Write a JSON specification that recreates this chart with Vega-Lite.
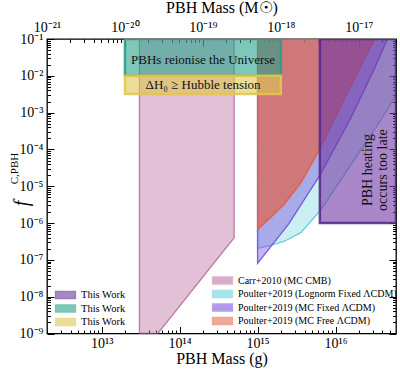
{
  "$schema": "https://vega.github.io/schema/vega-lite/v6.json",
  "width": 349,
  "height": 294.5,
  "autosize": {"type": "none"},
  "padding": {"left": 47, "top": 39, "right": 4, "bottom": 37.5},
  "config": {
    "view": {"stroke": "black", "strokeWidth": 1.3},
    "font": "Liberation Serif",
    "axis": {
      "domain": false, "tickColor": "black", "tickWidth": 1,
      "labelFont": "Liberation Serif", "labelFontSize": 14, "labelColor": "black",
      "titleFont": "Liberation Serif", "titleFontWeight": "normal", "titleColor": "black",
      "grid": false, "labelOverlap": false, "labelFlush": false
    },
    "legend": {"labelFont": "Liberation Serif", "labelColor": "black"}
  },
  "layer": [
    {
      "layer": [
        {
          "layer": [
            {
              "data": {"values": [
                {"series": "Carr+2010 (MC CMB)", "mass_g": 3.05e13, "f": 1e-9},
                {"series": "Carr+2010 (MC CMB)", "mass_g": 5.25e13, "f": 1e-9},
                {"series": "Carr+2010 (MC CMB)", "mass_g": 5.0e14, "f": 4.0e-7}
              ]},
              "mark": {"type": "area", "fillOpacity": 0.42, "strokeWidth": 1.3, "clip": true},
              "encoding": {
                "x": {"field": "mass_g", "type": "quantitative", "scale": {"type": "log", "domain": [1.989e12, 5.967e16], "nice": false},
                  "axis": {"orient": "bottom", "offset": -7, "tickSize": 7, "labelPadding": 2.5,
                    "title": "PBH Mass (g)", "titleFontSize": 16, "titleY": 37, "titleBaseline": "alphabetic",
                    "values": [1e13, 1e14, 1e15, 1e16],
                    "labelExpr": "'10' + (round(log(datum.value)/LN10) < 0 ? '⁻' : '') + (abs(round(log(datum.value)/LN10)) >= 10 ? substring('⁰¹²³⁴⁵⁶⁷⁸⁹', floor(abs(round(log(datum.value)/LN10))/10), floor(abs(round(log(datum.value)/LN10))/10) + 1) : '') + substring('⁰¹²³⁴⁵⁶⁷⁸⁹', abs(round(log(datum.value)/LN10)) % 10, abs(round(log(datum.value)/LN10)) % 10 + 1)"}},
                "y": {"field": "f", "type": "quantitative", "scale": {"type": "log", "domain": [1e-9, 0.1], "nice": false},
                  "axis": {"orient": "left", "offset": -7, "tickSize": 7, "labelPadding": 4,
                    "title": "f", "titleFontStyle": "italic", "titleFontSize": 20, "titleAngle": 270,
                    "titleX": -27, "titleY": 164, "titleAlign": "center", "titleBaseline": "alphabetic",
                    "values": [1e-9, 1e-8, 1e-7, 1e-6, 1e-5, 1e-4, 1e-3, 1e-2, 1e-1],
                    "labelExpr": "'10' + (round(log(datum.value)/LN10) < 0 ? '⁻' : '') + (abs(round(log(datum.value)/LN10)) >= 10 ? substring('⁰¹²³⁴⁵⁶⁷⁸⁹', floor(abs(round(log(datum.value)/LN10))/10), floor(abs(round(log(datum.value)/LN10))/10) + 1) : '') + substring('⁰¹²³⁴⁵⁶⁷⁸⁹', abs(round(log(datum.value)/LN10)) % 10, abs(round(log(datum.value)/LN10)) % 10 + 1)"}},
                "y2": {"datum": 0.1},
                "fill": {"field": "series", "type": "nominal",
                  "scale": {"domain": ["Carr+2010 (MC CMB)", "Poulter+2019 (Lognorm Fixed ΛCDM)", "Poulter+2019 (MC Fixed ΛCDM)", "Poulter+2019 (MC Free ΛCDM)"],
                            "range": ["#b9699b", "#5ccfd9", "#7544d9", "#dc6452"]},
                  "legend": {"orient": "none", "legendX": 170, "legendY": 236, "title": null, "padding": 0,
                    "symbolType": "M-2.2,-0.8H2.2V0.8H-2.2Z", "symbolSize": 81, "symbolStrokeWidth": 1.5, "symbolOpacity": 0.55,
                    "labelFontSize": 10, "labelOffset": 10, "rowPadding": -1.5, "labelLimit": 300}},
                "stroke": {"field": "series", "type": "nominal",
                  "scale": {"domain": ["Carr+2010 (MC CMB)", "Poulter+2019 (Lognorm Fixed ΛCDM)", "Poulter+2019 (MC Fixed ΛCDM)", "Poulter+2019 (MC Free ΛCDM)"],
                            "range": ["#c07aa8", "#6ccbdc", "#7b55e6", "#f0583a"]},
                  "legend": {"orient": "none", "legendX": 170, "legendY": 236, "title": null, "padding": 0,
                    "symbolType": "M-2.2,-0.8H2.2V0.8H-2.2Z", "symbolSize": 81, "symbolStrokeWidth": 1.5, "symbolOpacity": 0.55,
                    "labelFontSize": 10, "labelOffset": 10, "rowPadding": -1.5, "labelLimit": 300}}
              }
            },
            {
              "data": {"values": [
                {"series": "Poulter+2019 (Lognorm Fixed ΛCDM)", "mass_g": 1.0e15, "f": 2.05e-7},
                {"series": "Poulter+2019 (Lognorm Fixed ΛCDM)", "mass_g": 1.47e15, "f": 2.47e-7},
                {"series": "Poulter+2019 (Lognorm Fixed ΛCDM)", "mass_g": 2.17e15, "f": 3.16e-7},
                {"series": "Poulter+2019 (Lognorm Fixed ΛCDM)", "mass_g": 3.59e15, "f": 5.5e-7},
                {"series": "Poulter+2019 (Lognorm Fixed ΛCDM)", "mass_g": 6.5e15, "f": 2.3e-6},
                {"series": "Poulter+2019 (Lognorm Fixed ΛCDM)", "mass_g": 1.17e16, "f": 1.5e-5},
                {"series": "Poulter+2019 (Lognorm Fixed ΛCDM)", "mass_g": 2.11e16, "f": 9.7e-5},
                {"series": "Poulter+2019 (Lognorm Fixed ΛCDM)", "mass_g": 3.82e16, "f": 6.3e-4},
                {"series": "Poulter+2019 (Lognorm Fixed ΛCDM)", "mass_g": 5.967e16, "f": 2.9e-3}
              ]},
              "mark": {"type": "area", "fillOpacity": 0.32, "strokeWidth": 1.3, "clip": true},
              "encoding": {
                "x": {"field": "mass_g", "type": "quantitative", "scale": {"type": "log", "domain": [1.989e12, 5.967e16], "nice": false}},
                "y": {"field": "f", "type": "quantitative", "scale": {"type": "log", "domain": [1e-9, 0.1], "nice": false}},
                "y2": {"datum": 0.1},
                "fill": {"field": "series", "type": "nominal"},
                "stroke": {"field": "series", "type": "nominal"}
              }
            },
            {
              "data": {"values": [
                {"series": "Poulter+2019 (MC Fixed ΛCDM)", "mass_g": 1.0e15, "f": 8.0e-8},
                {"series": "Poulter+2019 (MC Fixed ΛCDM)", "mass_g": 2.51e15, "f": 9.5e-7},
                {"series": "Poulter+2019 (MC Fixed ΛCDM)", "mass_g": 6.31e15, "f": 2.0e-5},
                {"series": "Poulter+2019 (MC Fixed ΛCDM)", "mass_g": 1.585e16, "f": 7.35e-4},
                {"series": "Poulter+2019 (MC Fixed ΛCDM)", "mass_g": 3.16e16, "f": 1.59e-2},
                {"series": "Poulter+2019 (MC Fixed ΛCDM)", "mass_g": 4.63e16, "f": 0.1}
              ]},
              "mark": {"type": "area", "fillOpacity": 0.4, "strokeWidth": 1.3, "clip": true},
              "encoding": {
                "x": {"field": "mass_g", "type": "quantitative", "scale": {"type": "log", "domain": [1.989e12, 5.967e16], "nice": false}},
                "y": {"field": "f", "type": "quantitative", "scale": {"type": "log", "domain": [1e-9, 0.1], "nice": false}},
                "y2": {"datum": 0.1},
                "fill": {"field": "series", "type": "nominal"},
                "stroke": {"field": "series", "type": "nominal"}
              }
            },
            {
              "data": {"values": [
                {"series": "Poulter+2019 (MC Free ΛCDM)", "mass_g": 1.0e15, "f": 6.7e-7},
                {"series": "Poulter+2019 (MC Free ΛCDM)", "mass_g": 1.47e15, "f": 1.41e-6},
                {"series": "Poulter+2019 (MC Free ΛCDM)", "mass_g": 2.17e15, "f": 3.2e-6},
                {"series": "Poulter+2019 (MC Free ΛCDM)", "mass_g": 3.59e15, "f": 1.24e-5},
                {"series": "Poulter+2019 (MC Free ΛCDM)", "mass_g": 6.1e15, "f": 9.1e-5},
                {"series": "Poulter+2019 (MC Free ΛCDM)", "mass_g": 1.36e16, "f": 2.97e-3},
                {"series": "Poulter+2019 (MC Free ΛCDM)", "mass_g": 3.16e16, "f": 0.1}
              ]},
              "mark": {"type": "area", "fillOpacity": 0.72, "strokeWidth": 1.3, "clip": true},
              "encoding": {
                "x": {"field": "mass_g", "type": "quantitative", "scale": {"type": "log", "domain": [1.989e12, 5.967e16], "nice": false}},
                "y": {"field": "f", "type": "quantitative", "scale": {"type": "log", "domain": [1e-9, 0.1], "nice": false}},
                "y2": {"datum": 0.1},
                "fill": {"field": "series", "type": "nominal"},
                "stroke": {"field": "series", "type": "nominal"}
              }
            }
          ]
        },
        {
          "data": {"values": [
            {"box": "b", "mass_g": 1.989e13, "mass_g2": 1.989e15, "f": 1e-2, "f2": 0.1},
            {"box": "c", "mass_g": 1.989e13, "mass_g2": 1.989e15, "f": 3.2e-3, "f2": 1e-2},
            {"box": "a", "mass_g": 6.3e15, "mass_g2": 5.967e16, "f": 1e-6, "f2": 0.1}
          ]},
          "mark": {"type": "rect", "fillOpacity": 0.6, "strokeWidth": 2.5, "strokeOpacity": 0.9, "clip": true},
          "encoding": {
            "x": {"field": "mass_g", "type": "quantitative", "scale": {"type": "log", "domain": [1.989e12, 5.967e16], "nice": false}},
            "x2": {"field": "mass_g2"},
            "y": {"field": "f", "type": "quantitative", "scale": {"type": "log", "domain": [1e-9, 0.1], "nice": false}},
            "y2": {"field": "f2"},
            "fill": {"field": "box", "type": "nominal",
              "scale": {"domain": ["a", "b", "c"], "range": ["#7137a3", "#26a38a", "#dec850"]},
              "legend": {"orient": "none", "legendX": 13, "legendY": 250.5, "title": null, "padding": 0,
                "symbolType": "M-2.2,-0.8H2.2V0.8H-2.2Z", "symbolSize": 81, "symbolStrokeWidth": 1.5, "symbolOpacity": 0.6,
                "labelFontSize": 10.5, "labelOffset": 10, "rowPadding": -1.5, "labelExpr": "'This Work'"}},
            "stroke": {"field": "box", "type": "nominal",
              "scale": {"domain": ["a", "b", "c"], "range": ["#5a2a8a", "#2e9d88", "#e3c64a"]},
              "legend": {"orient": "none", "legendX": 13, "legendY": 250.5, "title": null, "padding": 0,
                "symbolType": "M-2.2,-0.8H2.2V0.8H-2.2Z", "symbolSize": 81, "symbolStrokeWidth": 1.5, "symbolOpacity": 0.6,
                "labelFontSize": 10.5, "labelOffset": 10, "rowPadding": -1.5, "labelExpr": "'This Work'"}}
          }
        },
        {
          "data": {"values": [
            {"label": "PBHs reionise the Universe", "mass_g": 2.0e14, "f": 2.7e-2},
            {"label": "ΔH₀ ≥ Hubble tension", "mass_g": 2.0e14, "f": 5.7e-3}
          ]},
          "mark": {"type": "text", "font": "Liberation Serif", "fontSize": 13, "color": "#111111", "align": "center", "baseline": "middle"},
          "encoding": {
            "x": {"field": "mass_g", "type": "quantitative", "scale": {"type": "log", "domain": [1.989e12, 5.967e16], "nice": false}},
            "y": {"field": "f", "type": "quantitative", "scale": {"type": "log", "domain": [1e-9, 0.1], "nice": false}},
            "text": {"field": "label", "type": "nominal"}
          }
        },
        {
          "data": {"values": [
            {"label": "PBH heating\noccurs too late", "mass_g": 2.6e16, "f": 2.75e-5}
          ]},
          "mark": {"type": "text", "font": "Liberation Serif", "fontSize": 14, "color": "#111111", "align": "center", "baseline": "middle", "angle": 270, "lineBreak": "\n", "lineHeight": 15},
          "encoding": {
            "x": {"field": "mass_g", "type": "quantitative", "scale": {"type": "log", "domain": [1.989e12, 5.967e16], "nice": false}},
            "y": {"field": "f", "type": "quantitative", "scale": {"type": "log", "domain": [1e-9, 0.1], "nice": false}},
            "text": {"field": "label", "type": "nominal"}
          }
        }
      ],
      "resolve": {"scale": {"fill": "independent", "stroke": "independent"}}
    },
    {
      "data": {"values": [{"mass_g": 1e14, "f": 1e-5}]},
      "mark": {"type": "point", "opacity": 0},
      "encoding": {
        "x": {"field": "mass_g", "type": "quantitative", "scale": {"type": "log", "domain": [1.989e12, 5.967e16], "nice": false},
          "axis": {"orient": "bottom", "offset": -3.5, "tickSize": 3.5, "title": null, "labels": false,
            "values": [2e12, 3e12, 4e12, 5e12, 6e12, 7e12, 8e12, 9e12, 2e13, 3e13, 4e13, 5e13, 6e13, 7e13, 8e13, 9e13, 2e14, 3e14, 4e14, 5e14, 6e14, 7e14, 8e14, 9e14, 2e15, 3e15, 4e15, 5e15, 6e15, 7e15, 8e15, 9e15, 2e16, 3e16, 4e16, 5e16]}},
        "y": {"field": "f", "type": "quantitative", "scale": {"type": "log", "domain": [1e-9, 0.1], "nice": false},
          "axis": {"orient": "left", "offset": -3.5, "tickSize": 3.5, "title": null, "labels": false,
            "values": [2e-9, 3e-9, 4e-9, 5e-9, 6e-9, 7e-9, 8e-9, 9e-9, 2e-8, 3e-8, 4e-8, 5e-8, 6e-8, 7e-8, 8e-8, 9e-8, 2e-7, 3e-7, 4e-7, 5e-7, 6e-7, 7e-7, 8e-7, 9e-7, 2e-6, 3e-6, 4e-6, 5e-6, 6e-6, 7e-6, 8e-6, 9e-6, 2e-5, 3e-5, 4e-5, 5e-5, 6e-5, 7e-5, 8e-5, 9e-5, 2e-4, 3e-4, 4e-4, 5e-4, 6e-4, 7e-4, 8e-4, 9e-4, 2e-3, 3e-3, 4e-3, 5e-3, 6e-3, 7e-3, 8e-3, 9e-3, 2e-2, 3e-2, 4e-2, 5e-2, 6e-2, 7e-2, 8e-2, 9e-2]}}
      }
    },
    {
      "data": {"values": [{"mass_msun": 1e-19, "f": 1e-5}]},
      "mark": {"type": "point", "opacity": 0},
      "encoding": {
        "x": {"field": "mass_msun", "type": "quantitative", "scale": {"type": "log", "domain": [1e-21, 3e-17], "nice": false},
          "axis": {"orient": "top", "offset": -7, "tickSize": 7, "labelPadding": 4.5,
            "title": "PBH Mass (M☉)", "titleFontSize": 16, "titleY": -34, "titleBaseline": "alphabetic",
            "values": [1e-21, 1e-20, 1e-19, 1e-18, 1e-17],
            "labelExpr": "'10' + (round(log(datum.value)/LN10) < 0 ? '⁻' : '') + (abs(round(log(datum.value)/LN10)) >= 10 ? substring('⁰¹²³⁴⁵⁶⁷⁸⁹', floor(abs(round(log(datum.value)/LN10))/10), floor(abs(round(log(datum.value)/LN10))/10) + 1) : '') + substring('⁰¹²³⁴⁵⁶⁷⁸⁹', abs(round(log(datum.value)/LN10)) % 10, abs(round(log(datum.value)/LN10)) % 10 + 1)"}},
        "y": {"field": "f", "type": "quantitative", "scale": {"type": "log", "domain": [1e-9, 0.1], "nice": false},
          "axis": {"orient": "right", "offset": -7, "tickSize": 7, "labels": false,
            "title": "C,PBH", "titleFontSize": 11, "titleAngle": 270,
            "titleX": -372, "titleY": 129, "titleAlign": "center", "titleBaseline": "alphabetic",
            "values": [1e-9, 1e-8, 1e-7, 1e-6, 1e-5, 1e-4, 1e-3, 1e-2, 1e-1]}}
      }
    },
    {
      "data": {"values": [{"mass_msun": 1e-19, "f": 1e-5}]},
      "mark": {"type": "point", "opacity": 0},
      "encoding": {
        "x": {"field": "mass_msun", "type": "quantitative", "scale": {"type": "log", "domain": [1e-21, 3e-17], "nice": false},
          "axis": {"orient": "top", "offset": -3.5, "tickSize": 3.5, "title": null, "labels": false,
            "values": [2e-21, 3e-21, 4e-21, 5e-21, 6e-21, 7e-21, 8e-21, 9e-21, 2e-20, 3e-20, 4e-20, 5e-20, 6e-20, 7e-20, 8e-20, 9e-20, 2e-19, 3e-19, 4e-19, 5e-19, 6e-19, 7e-19, 8e-19, 9e-19, 2e-18, 3e-18, 4e-18, 5e-18, 6e-18, 7e-18, 8e-18, 9e-18, 2e-17, 3e-17]}},
        "y": {"field": "f", "type": "quantitative", "scale": {"type": "log", "domain": [1e-9, 0.1], "nice": false},
          "axis": {"orient": "right", "offset": -3.5, "tickSize": 3.5, "title": null, "labels": false,
            "values": [2e-9, 3e-9, 4e-9, 5e-9, 6e-9, 7e-9, 8e-9, 9e-9, 2e-8, 3e-8, 4e-8, 5e-8, 6e-8, 7e-8, 8e-8, 9e-8, 2e-7, 3e-7, 4e-7, 5e-7, 6e-7, 7e-7, 8e-7, 9e-7, 2e-6, 3e-6, 4e-6, 5e-6, 6e-6, 7e-6, 8e-6, 9e-6, 2e-5, 3e-5, 4e-5, 5e-5, 6e-5, 7e-5, 8e-5, 9e-5, 2e-4, 3e-4, 4e-4, 5e-4, 6e-4, 7e-4, 8e-4, 9e-4, 2e-3, 3e-3, 4e-3, 5e-3, 6e-3, 7e-3, 8e-3, 9e-3, 2e-2, 3e-2, 4e-2, 5e-2, 6e-2, 7e-2, 8e-2, 9e-2]}}
      }
    }
  ],
  "resolve": {"scale": {"x": "independent", "y": "independent"}, "axis": {"x": "independent", "y": "independent"}}
}
